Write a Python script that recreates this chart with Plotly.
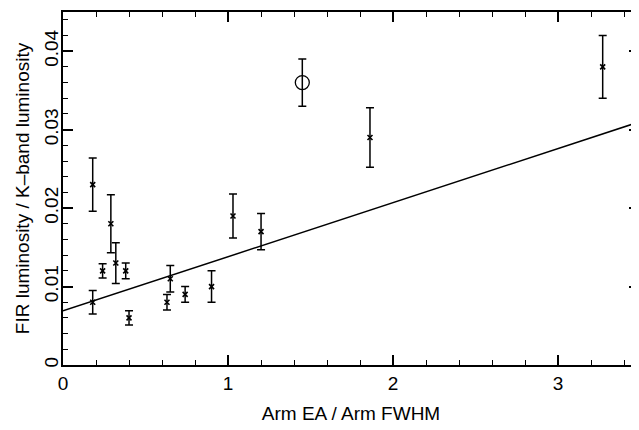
import plotly.graph_objects as go

# Data
arm_ratio = [0.18, 0.18, 0.24, 0.29, 0.32, 0.38, 0.40, 0.63, 0.65, 0.74, 0.90, 1.03, 1.20, 1.86, 3.27]
fir_k_ratio = [0.023, 0.008, 0.012, 0.018, 0.013, 0.012, 0.006, 0.008, 0.011, 0.009, 0.010, 0.019, 0.017, 0.029, 0.038]
fir_k_err = [0.0034, 0.0015, 0.0009, 0.0037, 0.0026, 0.0010, 0.0009, 0.0010, 0.0017, 0.0010, 0.0020, 0.0028, 0.0023, 0.0038, 0.0040]

special_x = [1.45]
special_y = [0.036]
special_err = [0.003]

fit_intercept = 0.0069
fit_slope = 0.0069
fit_x = [0.0, 3.5]
fit_y = [fit_intercept + fit_slope * v for v in fit_x]

FONT = "Liberation Sans, Arial, sans-serif"

fig = go.Figure()

fig.add_trace(go.Scatter(
    x=fit_x, y=fit_y, mode="lines",
    line=dict(color="black", width=1.5),
    showlegend=False, hoverinfo="skip"))

fig.add_trace(go.Scatter(
    x=arm_ratio, y=fir_k_ratio, mode="markers",
    marker=dict(symbol="x-thin-open", size=5, color="black",
                line=dict(color="black", width=1.6)),
    error_y=dict(type="data", array=fir_k_err, visible=True,
                 color="black", thickness=1.5, width=4),
    showlegend=False))

fig.add_trace(go.Scatter(
    x=special_x, y=special_y, mode="markers",
    marker=dict(symbol="circle-open", size=14, color="black",
                line=dict(color="black", width=1.3)),
    error_y=dict(type="data", array=special_err, visible=True,
                 color="black", thickness=1.5, width=4),
    showlegend=False))

fig.update_layout(
    template="simple_white",
    width=631, height=422,
    margin=dict(l=55, r=0, t=4, b=65, autoexpand=False),
    paper_bgcolor="white", plot_bgcolor="white",
    xaxis=dict(
        range=[0, 3.49], dtick=1,
        showline=True, linecolor="black", linewidth=1.5, mirror="allticks",
        ticks="inside", ticklen=10, tickwidth=1.5, tickcolor="black",
        showgrid=False, zeroline=False, automargin=False,
        tickfont=dict(family=FONT, size=19, color="black"),
        minor=dict(dtick=0.2, ticks="inside", ticklen=5, tickcolor="black", tickwidth=1.2),
        title=dict(text="Arm EA / Arm FWHM", font=dict(family=FONT, size=19, color="black"), standoff=14),
    ),
    yaxis=dict(
        range=[0, 0.045], dtick=0.01, tickangle=-90,
        showline=True, linecolor="black", linewidth=1.5, mirror="allticks",
        ticks="inside", ticklen=10, tickwidth=1.5, tickcolor="black",
        showgrid=False, zeroline=False, automargin=False,
        tickfont=dict(family=FONT, size=19, color="black"),
        minor=dict(dtick=0.002, ticks="inside", ticklen=5, tickcolor="black", tickwidth=1.2),
        ticklabelstandoff=-4,
        title=dict(text="FIR luminosity / K\u2013band luminosity", font=dict(family=FONT, size=19, color="black"), standoff=6),
    ),
)

fig.write_html("out.html")
